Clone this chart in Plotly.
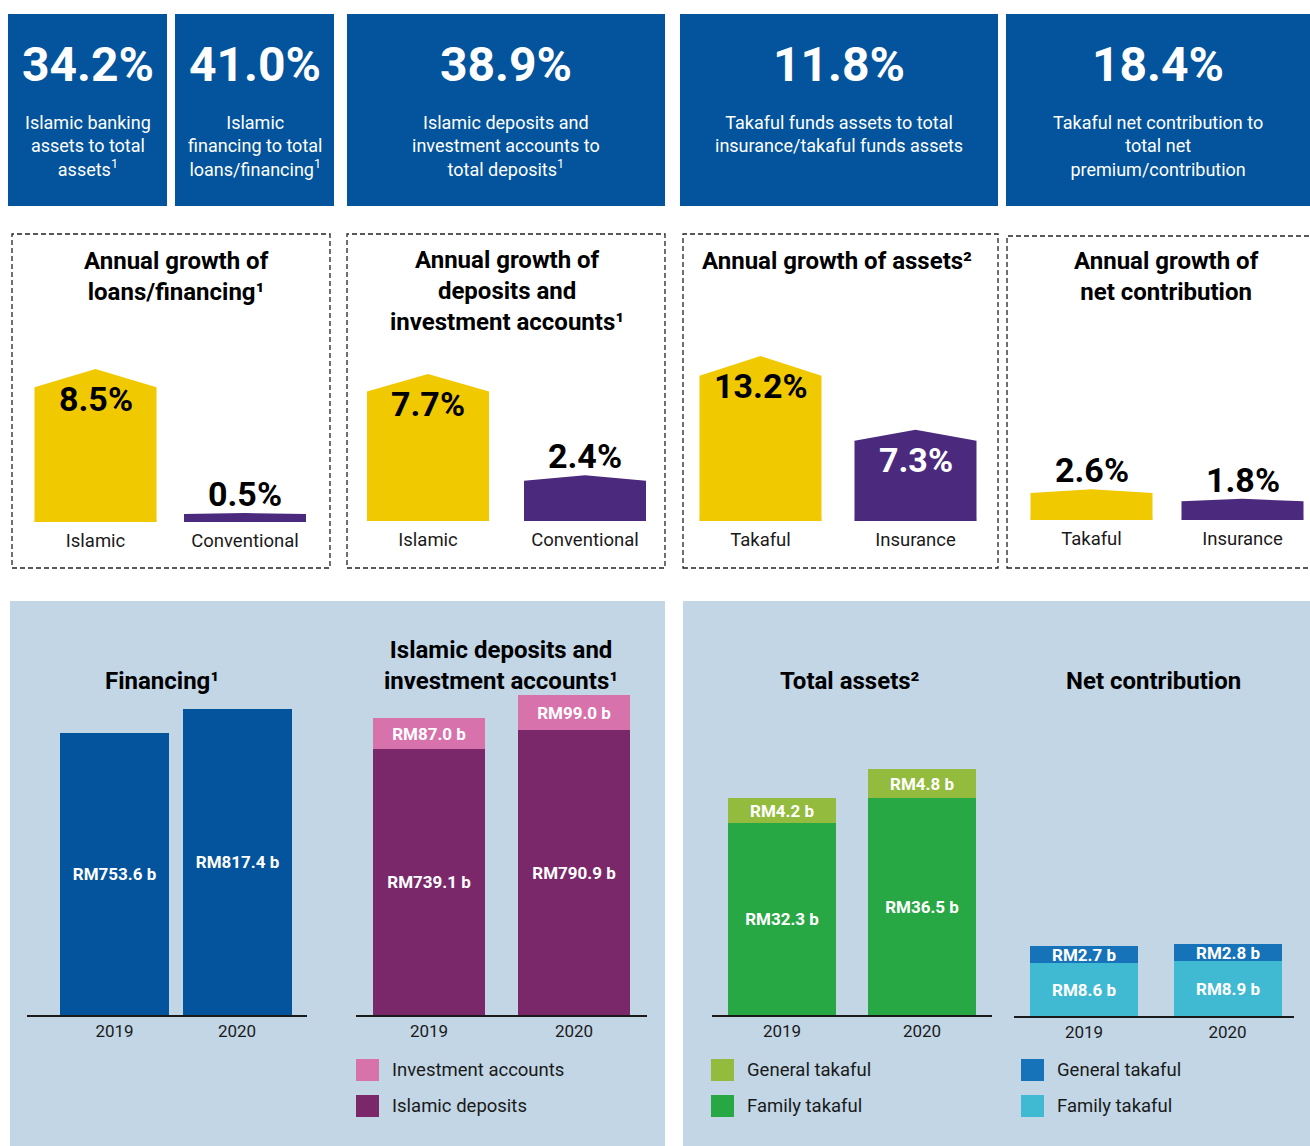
import plotly.graph_objects as go

W, H = 1310, 1146

# ---------------- data ----------------
kpi_pct = [34.2, 41.0, 38.9, 11.8, 18.4]
kpi_labels = [
    "Islamic banking<br>assets to total<br>assets<sup>1</sup>",
    "Islamic<br>financing to total<br>loans/financing<sup>1</sup>",
    "Islamic deposits and<br>investment accounts to<br>total deposits<sup>1</sup>",
    "Takaful funds assets to total<br>insurance/takaful funds assets",
    "Takaful net contribution to<br>total net<br>premium/contribution",
]

growth_titles = [
    "Annual growth of<br>loans/financing¹",
    "Annual growth of<br>deposits and<br>investment accounts¹",
    "Annual growth of assets²",
    "Annual growth of<br>net contribution",
]
growth_cats = [["Islamic", "Conventional"], ["Islamic", "Conventional"],
               ["Takaful", "Insurance"], ["Takaful", "Insurance"]]
growth_vals = [[8.5, 0.5], [7.7, 2.4], [13.2, 7.3], [2.6, 1.8]]

years = ["2019", "2020"]
financing = [753.6, 817.4]
islamic_deposits = [739.1, 790.9]
investment_accounts = [87.0, 99.0]
family_takaful_assets = [32.3, 36.5]
general_takaful_assets = [4.2, 4.8]
family_takaful_contrib = [8.6, 8.9]
general_takaful_contrib = [2.7, 2.8]

# ---------------- styles ----------------
FONT = "Roboto, Arial, sans-serif"
BLUE_BOX = "#03549c"
YELLOW = "#f1c900"
PURPLE = "#4b2a7d"
BG = "#c2d6e6"
FIN_BLUE = "#03549c"
DEP_PURPLE = "#7b286b"
INV_PINK = "#d872ac"
FAM_GREEN = "#28a745"
GEN_GREEN = "#93bb3d"
FAM_CYAN = "#40bad2"
GEN_BLUE = "#1673b9"
TXT = "#1a1a1a"


def px_x(p):
    return p / W


def px_y(p):
    return 1 - p / H


fig = go.Figure()
shapes = []
annotations = []

# ---------------- bottom backgrounds ----------------
for x0, x1 in [(10, 665), (683, 1312)]:
    shapes.append(dict(type="rect", xref="paper", yref="paper",
                       x0=px_x(x0), x1=px_x(x1), y0=px_y(1148), y1=px_y(601),
                       fillcolor=BG, line_width=0, layer="below"))

# ---------------- KPI boxes ----------------
kpi_boxes = [(8, 167), (175, 334), (347, 665), (680, 998), (1006, 1312)]
for (x0, x1), v, lab in zip(kpi_boxes, kpi_pct, kpi_labels):
    shapes.append(dict(type="rect", xref="paper", yref="paper",
                       x0=px_x(x0), x1=px_x(x1), y0=px_y(206), y1=px_y(14),
                       fillcolor=BLUE_BOX, line_width=0, layer="below"))
    cx = px_x((x0 + min(x1, 1310)) / 2)
    annotations.append(dict(xref="paper", yref="paper", x=cx, y=px_y(64),
                            text=f"<b>{v:.1f}%</b>", showarrow=False,
                            xanchor="center", yanchor="middle",
                            font=dict(family=FONT, size=48, color="white")))
    annotations.append(dict(xref="paper", yref="paper", x=cx, y=px_y(110),
                            text=lab, showarrow=False,
                            xanchor="center", yanchor="top",
                            font=dict(family=FONT, size=18, color="white")))

# ---------------- growth panels ----------------
g_boxes = [(12, 330, 234), (347, 665, 234), (683, 998, 234), (1007, 1312, 236)]
g_centers = [(95.5, 245), (428, 585), (760.5, 915.5), (1091.5, 1242.5)]
g_base = [522, 521, 521, 520]
g_scale = [18.0, 19.1, 12.5, 11.8]
g_title_y = [276, 291, 261, 276]
g_title_x = [176, 507, 837, 1166]
bar_half_px = 61
growth_colors = [YELLOW, PURPLE]

for k in range(4):
    n = k + 1
    bx0, bx1, by0 = g_boxes[k]
    shapes.append(dict(type="rect", xref="paper", yref="paper",
                       x0=px_x(bx0), x1=px_x(bx1), y0=px_y(568), y1=px_y(by0),
                       line=dict(color="#222222", width=1.3, dash="5px,3px"),
                       fillcolor="rgba(0,0,0,0)", layer="below"))
    c0, c1 = g_centers[k]
    unit = c1 - c0
    L, R = bx0 + 1, min(bx1, 1310) - 1
    base = g_base[k]
    top = 240
    fig.update_layout(**{
        f"xaxis{n}": dict(domain=[px_x(L), px_x(R)],
                          range=[(L - c0) / unit, (R - c0) / unit],
                          tickvals=[0, 1], ticktext=growth_cats[k],
                          showgrid=False, zeroline=False, showline=False,
                          ticks="", ticklabelstandoff=5,
                          tickfont=dict(family=FONT, size=18.5, color=TXT),
                          fixedrange=True, anchor=f"y{n}"),
        f"yaxis{n}": dict(domain=[px_y(base), px_y(top)],
                          range=[0, (base - top) / g_scale[k]],
                          visible=False, fixedrange=True, anchor=f"x{n}"),
    })
    hw = bar_half_px / unit
    for i, v in enumerate(growth_vals[k]):
        col = growth_colors[i]
        # soft shadow under the bar
        fig.add_trace(go.Scatter(
            x=[i - hw, i + hw], y=[0, 0], mode="lines",
            line=dict(color="rgba(0,0,0,0.18)", width=5),
            hoverinfo="skip", showlegend=False,
            xaxis=f"x{n}", yaxis=f"y{n}"))
        fig.add_trace(go.Scatter(
            x=[i - hw, i - hw, i, i + hw, i + hw, i - hw],
            y=[0, v * 0.88, v, v * 0.88, 0, 0],
            mode="lines", fill="toself", fillcolor=col,
            line=dict(width=0, color=col),
            hoverinfo="skip", showlegend=False,
            xaxis=f"x{n}", yaxis=f"y{n}"))
        inside = v * g_scale[k] > 60
        tcol = ("white" if col == PURPLE else "black") if inside else "black"
        annotations.append(dict(xref=f"x{n}", yref=f"y{n}", x=i, y=v,
                                text=f"<b>{v:.1f}%</b>", showarrow=False,
                                xanchor="center", yanchor="middle",
                                yshift=-30 if inside else 19,
                                font=dict(family=FONT, size=34, color=tcol)))
    annotations.append(dict(xref="paper", yref="paper",
                            x=px_x(g_title_x[k]), y=px_y(g_title_y[k]),
                            text=f"<b>{growth_titles[k]}</b>", showarrow=False,
                            xanchor="center", yanchor="middle",
                            font=dict(family=FONT, size=24, color="black")))

# ---------------- bottom bar charts ----------------
b_lines = [(27, 307), (356, 647), (712, 992), (1014, 1294)]
b_centers = [(114.5, 237), (429, 574), (782, 922), (1084, 1227.5)]
b_width_px = [109, 112, 108, 108]
b_base = [1015, 1015, 1015, 1016]
b_scale = [0.374, 0.360, 5.95, 6.17]
b_series = [
    [(financing, FIN_BLUE)],
    [(islamic_deposits, DEP_PURPLE), (investment_accounts, INV_PINK)],
    [(family_takaful_assets, FAM_GREEN), (general_takaful_assets, GEN_GREEN)],
    [(family_takaful_contrib, FAM_CYAN), (general_takaful_contrib, GEN_BLUE)],
]
b_titles = ["Financing¹", "Islamic deposits and<br>investment accounts¹",
            "Total assets²", "Net contribution"]
b_title_x = [162, 501, 850, 1153]
b_title_y = [681, 665.5, 681, 681]

for k in range(4):
    n = k + 5
    lx0, lx1 = b_lines[k]
    c0, c1 = b_centers[k]
    unit = c1 - c0
    base = b_base[k]
    top = 601
    fig.update_layout(**{
        f"xaxis{n}": dict(domain=[px_x(lx0), px_x(lx1)],
                          type="category", categoryorder="array",
                          categoryarray=years,
                          range=[(lx0 - c0) / unit, (lx1 - c0) / unit],
                          showgrid=False, zeroline=False, showline=True,
                          linecolor="#1a1a1a", linewidth=1.5, ticks="",
                          ticklabelstandoff=0,
                          tickfont=dict(family=FONT, size=17, color=TXT),
                          fixedrange=True, anchor=f"y{n}"),
        f"yaxis{n}": dict(domain=[px_y(base), px_y(top)],
                          range=[0, (base - top) / b_scale[k]],
                          visible=False, fixedrange=True, anchor=f"x{n}"),
    })
    for vals, col in b_series[k]:
        fig.add_trace(go.Bar(
            x=years, y=vals, marker=dict(color=col, line_width=0),
            width=b_width_px[k] / unit,
            text=[f"RM{v:.1f} b" for v in vals],
            textposition="inside", insidetextanchor="middle",
            constraintext="none", textangle=0,
            textfont=dict(family=FONT, size=17, color="white", weight="bold"),
            hoverinfo="skip", showlegend=False,
            xaxis=f"x{n}", yaxis=f"y{n}"))
    annotations.append(dict(xref="paper", yref="paper",
                            x=px_x(b_title_x[k]), y=px_y(b_title_y[k]),
                            text=f"<b>{b_titles[k]}</b>", showarrow=False,
                            xanchor="center", yanchor="middle",
                            font=dict(family=FONT, size=24, color="black")))

# ---------------- custom legends ----------------
legend_sets = [
    (356, [("Investment accounts", INV_PINK), ("Islamic deposits", DEP_PURPLE)]),
    (711, [("General takaful", GEN_GREEN), ("Family takaful", FAM_GREEN)]),
    (1021, [("General takaful", GEN_BLUE), ("Family takaful", FAM_CYAN)]),
]
for lx, items in legend_sets:
    for j, (name, col) in enumerate(items):
        cy = 1070 + 36 * j
        shapes.append(dict(type="rect", xref="paper", yref="paper",
                           x0=px_x(lx), x1=px_x(lx + 23),
                           y0=px_y(cy + 11), y1=px_y(cy - 11),
                           fillcolor=col, line_width=0))
        annotations.append(dict(xref="paper", yref="paper",
                                x=px_x(lx + 34), y=px_y(cy), text=name,
                                showarrow=False, xanchor="left", yanchor="middle",
                                font=dict(family=FONT, size=18.5, color=TXT)))

fig.update_layout(
    width=W, height=H,
    margin=dict(l=0, r=0, t=0, b=0),
    paper_bgcolor="white", plot_bgcolor="rgba(0,0,0,0)",
    shapes=shapes, annotations=annotations,
    showlegend=False, barmode="stack", bargap=0,
    font=dict(family=FONT),
)

fig.write_html("out.html", config={"displayModeBar": False},
               post_script="document.body.style.margin='0';")
